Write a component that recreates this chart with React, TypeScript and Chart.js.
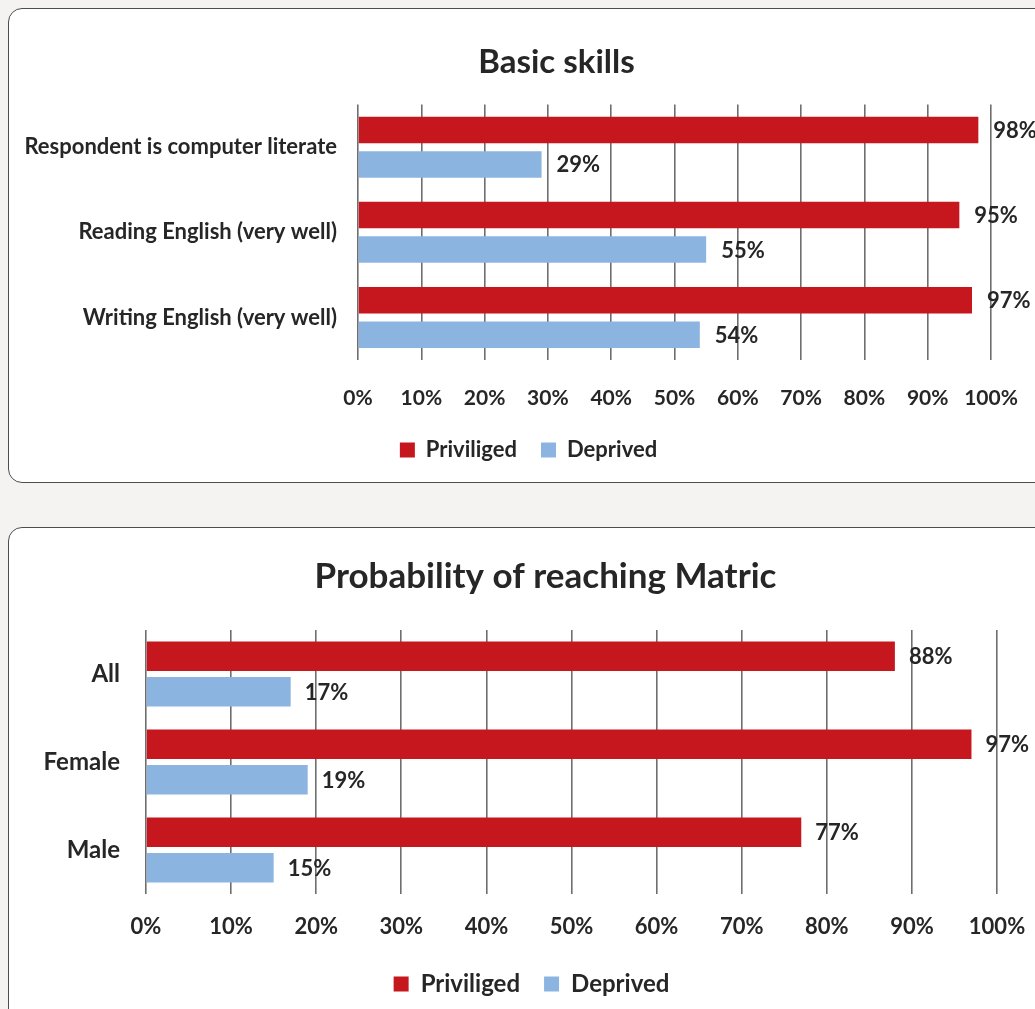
import React, { useEffect, useRef } from "react";
import { Chart, registerables } from "chart.js";

Chart.register(...registerables);

// ---- data ----
const seriesNames = ["Priviliged", "Deprived"];
const skillsTitle = "Basic skills";
const skillsCategories = [
  "Respondent is computer literate",
  "Reading English (very well)",
  "Writing English (very well)",
];
const skillsPriviliged = [98, 95, 97];
const skillsDeprived = [29, 55, 54];

const matricTitle = "Probability of reaching Matric";
const matricCategories = ["All", "Female", "Male"];
const matricPriviliged = [88, 97, 77];
const matricDeprived = [17, 19, 15];

const axisMin = 0;
const axisMax = 100;
const axisStep = 10;

// ---- styles ----
const RED = "#c5171d";
const BLUE = "#8cb4e0";
const TEXT = "#262626";
const GRID = "#6e6e6e";
const FONT = "Lato, 'Open Sans', sans-serif";
const CANVAS_W = 1100; // wider than the window: the panels run off the right edge
const CANVAS_H = 482;

const valueLabels = {
  id: "valueLabels",
  afterDatasetsDraw(chart: any, _args: any, opts: any) {
    const ctx = chart.ctx;
    ctx.save();
    ctx.font = `bold ${opts.size}px ${FONT}`;
    ctx.fillStyle = TEXT;
    ctx.textAlign = "left";
    ctx.textBaseline = "middle";
    chart.data.datasets.forEach((ds: any, i: number) => {
      const meta = chart.getDatasetMeta(i);
      meta.data.forEach((bar: any, j: number) => {
        ctx.fillText(`${ds.data[j]}%`, bar.x + opts.offset, bar.y + 1);
      });
    });
    ctx.restore();
  },
};

// shifts the (full-width) title and legend boxes horizontally so that they
// are centred where the original chart centres them
const boxShift = {
  id: "boxShift",
  afterLayout(chart: any, _args: any, opts: any) {
    const t = chart.titleBlock;
    if (t) {
      t.left += opts.title;
      t.right += opts.title;
    }
    const l = chart.legend;
    if (l) {
      l.left += opts.legend;
      l.right += opts.legend;
    }
  },
};

type Spec = {
  title: string;
  titleSize: number;
  titlePad: { top: number; bottom: number };
  titleShift: number;
  legendShift: number;
  categories: string[];
  priv: number[];
  dep: number[];
  padding: { left: number; right: number; top: number; bottom: number };
  yWidth: number;
  xHeight: number;
  yFont: number;
  yPad: number;
  tickFont: number;
  tickPad: number;
  legendFont: number;
  catPct: number;
  barPct: number;
  labelSize: number;
  labelOffset: number;
};

function BarPanel({ spec, top }: { spec: Spec; top: number }) {
  const ref = useRef<HTMLCanvasElement | null>(null);
  useEffect(() => {
    if (!ref.current) return;
    const chart = new Chart(ref.current, {
      type: "bar",
      data: {
        labels: spec.categories,
        datasets: [
          {
            label: seriesNames[0],
            data: spec.priv,
            backgroundColor: RED,
            borderWidth: 0,
            categoryPercentage: spec.catPct,
            barPercentage: spec.barPct,
          },
          {
            label: seriesNames[1],
            data: spec.dep,
            backgroundColor: BLUE,
            borderWidth: 0,
            categoryPercentage: spec.catPct,
            barPercentage: spec.barPct,
          },
        ],
      },
      options: {
        indexAxis: "y",
        responsive: false,
        animation: false,
        events: [],
        layout: { padding: spec.padding },
        scales: {
          x: {
            min: axisMin,
            max: axisMax,
            border: { display: false },
            grid: { color: GRID, lineWidth: 1.6, drawTicks: false },
            ticks: {
              stepSize: axisStep,
              padding: spec.tickPad,
              color: TEXT,
              font: { family: FONT, size: spec.tickFont, weight: "bold" },
              callback: (v: any) => `${v}%`,
            },
            afterFit: (s: any) => {
              s.height = spec.xHeight;
            },
          },
          y: {
            border: { display: false },
            grid: { display: false, drawTicks: false },
            ticks: {
              padding: spec.yPad,
              color: TEXT,
              font: { family: FONT, size: spec.yFont, weight: "bold" },
            },
            afterFit: (s: any) => {
              s.width = spec.yWidth;
            },
          },
        },
        plugins: {
          title: {
            display: true,
            text: spec.title,
            color: TEXT,
            font: { family: FONT, size: spec.titleSize, weight: "bold" },
            padding: spec.titlePad,
          },
          tooltip: { enabled: false },
          legend: {
            position: "bottom",
            labels: {
              boxWidth: 15,
              boxHeight: 15,
              padding: 24,
              color: TEXT,
              font: { family: FONT, size: spec.legendFont, weight: "bold" },
            },
          },
          valueLabels: { size: spec.labelSize, offset: spec.labelOffset },
          boxShift: { title: spec.titleShift, legend: spec.legendShift },
        } as any,
      },
      plugins: [valueLabels, boxShift],
    } as any);
    return () => chart.destroy();
  }, [spec]);
  return (
    <canvas
      ref={ref}
      width={CANVAS_W}
      height={CANVAS_H}
      style={{ position: "absolute", left: 0, top, width: CANVAS_W, height: CANVAS_H }}
    />
  );
}

const skillsSpec: Spec = {
  title: skillsTitle,
  titleSize: 33,
  titlePad: { top: 43, bottom: 22 },
  titleShift: 61,
  legendShift: 33,
  categories: skillsCategories,
  priv: skillsPriviliged,
  dep: skillsDeprived,
  padding: { left: 0, right: CANVAS_W - 991, top: 0, bottom: 11 },
  yWidth: 358,
  xHeight: 55,
  yFont: 22,
  yPad: 21,
  tickFont: 21,
  tickPad: 26,
  legendFont: 22,
  catPct: 0.81,
  barPct: 0.77,
  labelSize: 22,
  labelOffset: 15,
};

const matricSpec: Spec = {
  title: matricTitle,
  titleSize: 35,
  titlePad: { top: 29, bottom: 32 },
  titleShift: 47,
  legendShift: 33,
  categories: matricCategories,
  priv: matricPriviliged,
  dep: matricDeprived,
  padding: { left: 0, right: CANVAS_W - 997, top: 0, bottom: 3 },
  yWidth: 146,
  xHeight: 54,
  yFont: 24,
  yPad: 26,
  tickFont: 22,
  tickPad: 20,
  legendFont: 24,
  catPct: 0.807,
  barPct: 0.83,
  labelSize: 22,
  labelOffset: 14,
};

export default function App() {
  const box = (top: number, height: number): React.CSSProperties => ({
    position: "absolute",
    left: 8,
    top,
    width: 1080,
    height,
    background: "#ffffff",
    border: "1.5px solid #4d4d4d",
    borderRadius: 14,
    boxSizing: "border-box",
  });
  return (
    <div
      style={{
        position: "fixed",
        left: 0,
        top: 0,
        width: 1035,
        height: 1009,
        overflow: "hidden",
        background: "#f4f3f1",
      }}
    >
      <div style={box(8, 475)} />
      <div style={box(527, 540)} />
      <BarPanel spec={skillsSpec} top={0} />
      <BarPanel spec={matricSpec} top={527} />
    </div>
  );
}
